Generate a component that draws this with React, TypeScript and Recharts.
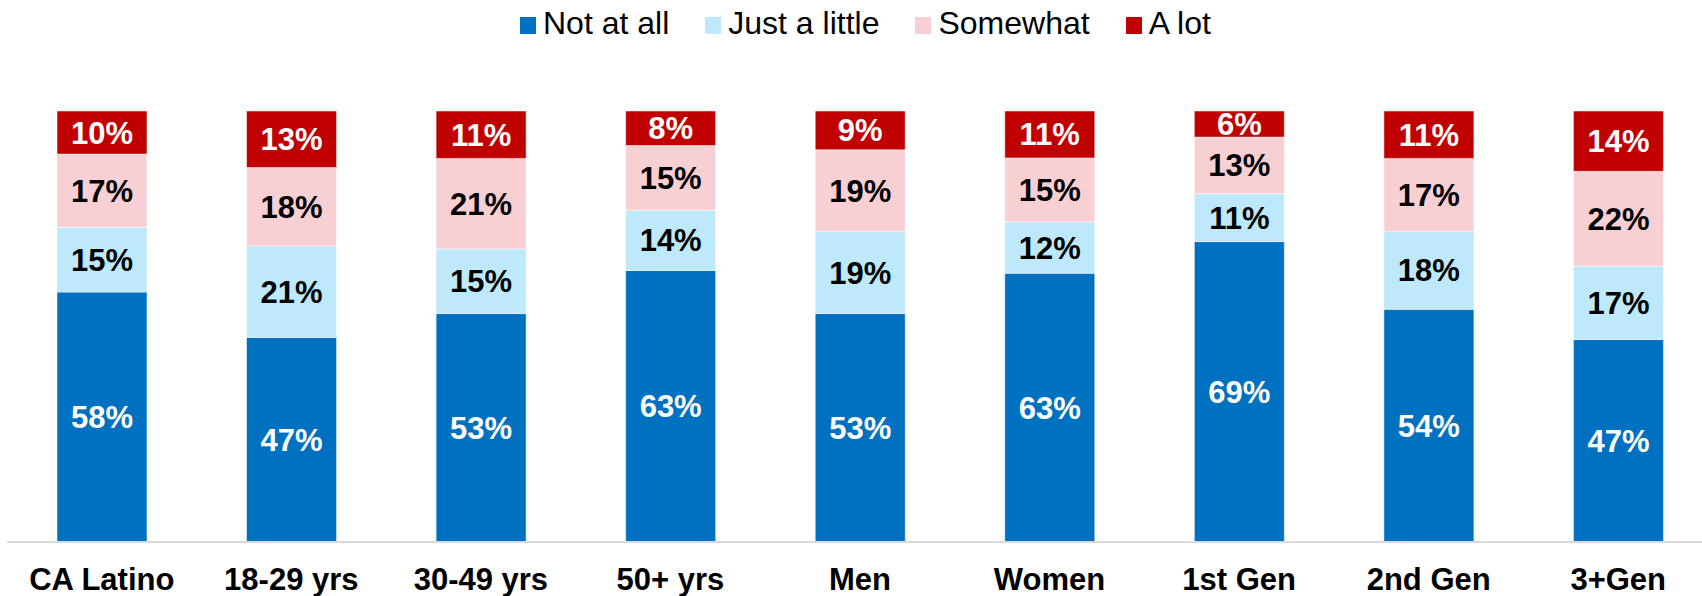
import { BarChart, Bar, XAxis, YAxis, LabelList } from 'recharts';

const categories = ['CA Latino', '18-29 yrs', '30-49 yrs', '50+ yrs', 'Men', 'Women', '1st Gen', '2nd Gen', '3+Gen'];
const notAtAll = [58, 47, 53, 63, 53, 63, 69, 54, 47];
const justALittle = [15, 21, 15, 14, 19, 12, 11, 18, 17];
const somewhat = [17, 18, 21, 15, 19, 15, 13, 17, 22];
const aLot = [10, 13, 11, 8, 9, 11, 6, 11, 14];

const FONT = '"Liberation Sans", Arial, sans-serif';

const series = [
  { key: 'notAtAll', name: 'Not at all', color: '#0070C0', text: '#ffffff' },
  { key: 'justALittle', name: 'Just a little', color: '#BDE9FB', text: '#000000' },
  { key: 'somewhat', name: 'Somewhat', color: '#F8D0D3', text: '#000000' },
  { key: 'aLot', name: 'A lot', color: '#C00000', text: '#ffffff' },
];

const data = categories.map((name, i) => ({
  name,
  notAtAll: notAtAll[i],
  justALittle: justALittle[i],
  somewhat: somewhat[i],
  aLot: aLot[i],
}));

function TopLegend() {
  return (
    <div
      style={{
        position: 'absolute',
        top: 7,
        left: 520,
        display: 'flex',
        fontFamily: FONT,
        fontSize: 32,
        lineHeight: 1,
        color: '#000',
        whiteSpace: 'nowrap',
      }}
    >
      {series.map((s, i) => (
        <div key={s.key} style={{ display: 'flex', alignItems: 'flex-start', marginRight: i < series.length - 1 ? 36 : 0 }}>
          <span style={{ width: 16, height: 17, background: s.color, marginTop: 10, marginRight: 7, display: 'inline-block' }} />
          <span>{s.name}</span>
        </div>
      ))}
    </div>
  );
}

export default function App() {
  return (
    <div style={{ position: 'absolute', left: 0, top: 0, width: 1702, height: 596, overflow: 'hidden', background: '#fff' }}>
      <TopLegend />
      <BarChart
        width={1713}
        height={596}
        data={data}
        stackOffset="expand"
        barSize={90}
        margin={{ top: 111, right: 0, left: 7, bottom: 0 }}
      >
        <XAxis
          dataKey="name"
          height={54}
          tickLine={false}
          tickSize={6}
          tickMargin={20}
          axisLine={{ stroke: '#D9D9D9', strokeWidth: 2 }}
          tick={{ fontSize: 31, fontWeight: 'bold', fill: '#000', fontFamily: FONT }}
          interval={0}
        />
        <YAxis hide domain={[0, 1]} />
        {series.map((s) => (
          <Bar
            key={s.key}
            dataKey={s.key}
            name={s.name}
            stackId="a"
            fill={s.color}
            stroke="#ffffff"
            strokeWidth={0.5}
            isAnimationActive={false}
          >
            <LabelList
              dataKey={s.key}
              position="center"
              formatter={(v: number) => `${v}%`}
              fill={s.text}
              style={{ fontSize: 31, fontWeight: 'bold', fontFamily: FONT }}
            />
          </Bar>
        ))}
      </BarChart>
    </div>
  );
}
